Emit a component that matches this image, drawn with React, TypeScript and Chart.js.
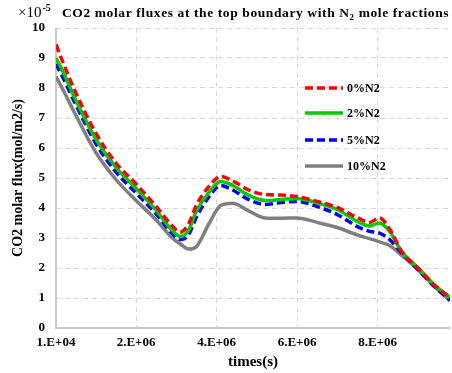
import { useEffect, useRef } from 'react';
import { Chart, registerables } from 'chart.js';

Chart.register(...registerables);

const FONT = '"Liberation Serif", "Times New Roman", serif';

// time (s)
const times = [1e4, 2e5, 5e5, 1.0e6, 1.5e6, 2.0e6, 2.5e6, 2.9e6, 3.1e6, 3.3e6, 3.5e6, 3.8e6, 4.1e6, 4.4e6, 4.8e6, 5.2e6, 5.6e6, 6.0e6, 6.5e6, 7.0e6, 7.5e6, 7.8e6, 8.05e6, 8.3e6, 8.6e6, 9.0e6, 9.4e6, 9.8e6];

// CO2 molar flux (x1e-5 mol/m2/s)
const flux0 = [9.45, 8.8, 7.85, 6.5, 5.5, 4.8, 4.05, 3.4, 3.2, 3.45, 4.1, 4.7, 5.05, 4.9, 4.6, 4.45, 4.43, 4.38, 4.22, 4.02, 3.68, 3.52, 3.67, 3.3, 2.55, 2.0, 1.45, 1.0];
const flux2 = [9.0, 8.5, 7.6, 6.3, 5.35, 4.65, 3.92, 3.25, 3.05, 3.25, 3.9, 4.5, 4.88, 4.75, 4.42, 4.25, 4.28, 4.32, 4.17, 3.95, 3.55, 3.4, 3.5, 3.22, 2.55, 2.02, 1.45, 1.02];
const flux5 = [8.8, 8.3, 7.45, 6.15, 5.2, 4.5, 3.8, 3.15, 2.95, 3.1, 3.7, 4.35, 4.75, 4.6, 4.28, 4.12, 4.18, 4.22, 4.05, 3.78, 3.38, 3.22, 3.16, 2.95, 2.5, 1.95, 1.4, 0.92];
const flux10 = [8.38, 7.9, 7.1, 5.85, 4.95, 4.25, 3.6, 3.0, 2.8, 2.63, 2.72, 3.45, 4.08, 4.16, 3.9, 3.67, 3.66, 3.67, 3.52, 3.35, 3.1, 2.98, 2.87, 2.75, 2.42, 1.95, 1.4, 0.92];

const seriesNames = ['0%N2', '2%N2', '5%N2', '10%N2'];
const seriesValues = [flux0, flux2, flux5, flux10];
const seriesColors = ['#ff0000', '#00cc00', '#0000ff', '#7f7f7f'];
const seriesDashes = [[8, 4], [], [8, 4], []];

const xTickValues = [1e4, 2e6, 4e6, 6e6, 8e6];
const xTickLabels = ['1.E+04', '2.E+06', '4.E+06', '6.E+06', '8.E+06'];

const titleMain = 'CO2 molar fluxes at the top boundary with N';
const titleSub = '2';
const titleEnd = ' mole fractions';

const axisLinePlugin = {
  id: 'axisLines',
  beforeDatasetsDraw(chart: any) {
    const ctx = chart.ctx;
    const a = chart.chartArea;
    ctx.save();
    ctx.strokeStyle = '#c8c8c8';
    ctx.lineWidth = 2;
    ctx.setLineDash([]);
    ctx.beginPath();
    ctx.moveTo(a.left, a.top);
    ctx.lineTo(a.left, a.bottom);
    ctx.lineTo(a.right, a.bottom);
    ctx.stroke();
    ctx.restore();
  },
};

const overlayPlugin = {
  id: 'overlay',
  afterDraw(chart: any) {
    const ctx = chart.ctx;
    const area = chart.chartArea;
    ctx.save();
    ctx.fillStyle = '#000';
    ctx.textBaseline = 'alphabetic';
    ctx.textAlign = 'left';
    // multiplier
    let x = 18;
    const by = 17;
    ctx.font = `15px ${FONT}`;
    ctx.fillText('×10', x, by);
    x += ctx.measureText('×10').width + 1;
    ctx.font = `bold 10px ${FONT}`;
    ctx.fillText('-5', x, by - 6);
    // title
    x = 62;
    try { (ctx as any).letterSpacing = '0.6px'; } catch (e) {}
    ctx.font = `bold 13.5px ${FONT}`;
    ctx.fillText(titleMain, x, by);
    x += ctx.measureText(titleMain).width;
    ctx.font = `bold 9px ${FONT}`;
    ctx.fillText(titleSub, x, by + 3);
    x += ctx.measureText(titleSub).width;
    ctx.font = `bold 13.5px ${FONT}`;
    ctx.fillText(titleEnd, x, by);
    try { (ctx as any).letterSpacing = '0px'; } catch (e) {}

    // legend
    const lx = area.left + 249;
    const rows = [60, 85, 112, 138];
    chart.data.datasets.forEach((ds: any, i: number) => {
      const y = area.top + rows[i];
      ctx.beginPath();
      ctx.strokeStyle = ds.borderColor;
      ctx.lineWidth = ds.borderWidth;
      ctx.setLineDash(ds.borderDash || []);
      ctx.moveTo(lx, y);
      ctx.lineTo(lx + 38, y);
      ctx.stroke();
      ctx.setLineDash([]);
      ctx.font = `bold 12px ${FONT}`;
      ctx.textBaseline = 'middle';
      ctx.fillStyle = '#000';
      ctx.fillText(ds.label, lx + 42, y + 1);
    });
    ctx.restore();
  },
};

export default function App() {
  const ref = useRef<HTMLCanvasElement>(null);
  useEffect(() => {
    if (!ref.current) return;
    const chart = new Chart(ref.current, {
      type: 'line',
      data: {
        datasets: seriesNames.map((name, i) => ({
          label: name,
          data: times.map((t, j) => ({ x: t, y: seriesValues[i][j] })),
          borderColor: seriesColors[i],
          backgroundColor: seriesColors[i],
          borderWidth: 3.5,
          borderDash: seriesDashes[i],
          pointRadius: 0,
          cubicInterpolationMode: 'monotone' as const,
          fill: false,
        })),
      },
      options: {
        animation: false,
        responsive: false,
        maintainAspectRatio: false,
        layout: { padding: { top: 28, right: 2, left: 0, bottom: 0 } },
        plugins: {
          legend: { display: false },
          title: { display: false },
          tooltip: { enabled: false },
        },
        scales: {
          x: {
            type: 'linear',
            min: 1e4,
            max: 9.8e6,
            afterBuildTicks: (scale: any) => {
              scale.ticks = xTickValues.map((v) => ({ value: v }));
            },
            afterFit: (scale: any) => {
              scale.height = 45;
            },
            ticks: {
              autoSkip: false,
              maxRotation: 0,
              padding: 7,
              color: '#000',
              font: { family: FONT, size: 13, weight: 'bold' },
              callback: (v: any) => {
                const idx = xTickValues.indexOf(Number(v));
                return idx >= 0 ? xTickLabels[idx] : '';
              },
            },
            grid: {
              color: '#d9d9d9',
              lineWidth: 1,
              drawTicks: false,
            },
            border: { display: false, dash: [5, 4] as any },
            title: {
              display: true,
              text: 'times(s)',
              color: '#000',
              font: { family: FONT, size: 15, weight: 'bold' },
              padding: { top: 0, bottom: 2 },
            },
          },
          y: {
            min: 0,
            max: 10,
            afterFit: (scale: any) => {
              scale.width = 56;
            },
            ticks: {
              stepSize: 1,
              padding: 11,
              color: '#000',
              font: { family: FONT, size: 13, weight: 'bold' },
            },
            grid: {
              color: '#d9d9d9',
              lineWidth: 1,
              drawTicks: false,
            },
            border: { display: false, dash: [5, 4] as any },
            title: {
              display: true,
              text: 'CO2 molar flux(mol/m2/s)',
              color: '#000',
              font: { family: FONT, size: 14, weight: 'bold' },
              padding: { top: 10, bottom: 0 },
            },
          },
        },
      },
      plugins: [axisLinePlugin, overlayPlugin],
    });
    return () => chart.destroy();
  }, []);
  return (
    <div style={{ position: 'fixed', left: 0, top: 0, width: 452, height: 373, background: '#fff' }}>
      <canvas ref={ref} width={452} height={373} style={{ display: 'block', width: 452, height: 373 }} />
    </div>
  );
}
